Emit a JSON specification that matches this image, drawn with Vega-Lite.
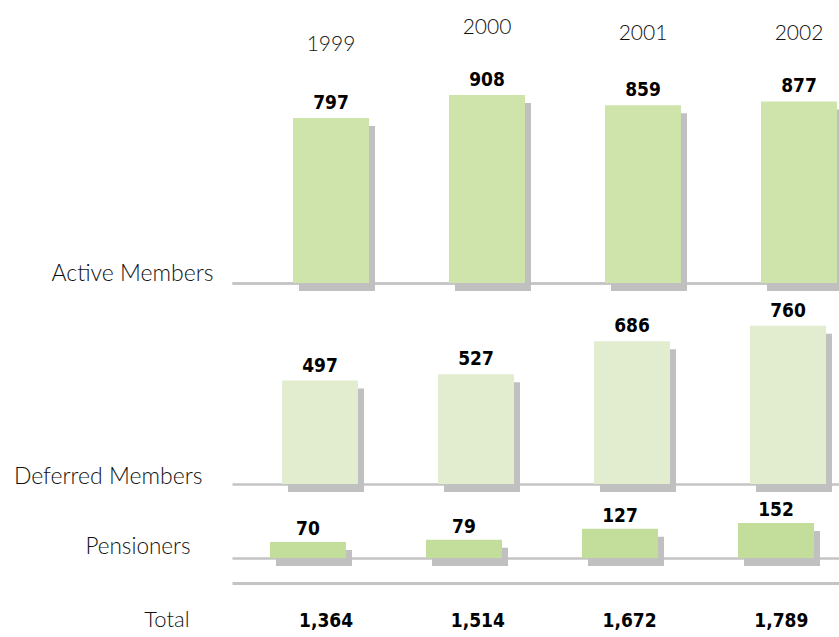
{
  "$schema": "https://vega.github.io/schema/vega-lite/v6.json",
  "padding": 0,
  "spacing": 0,
  "bounds": "flush",
  "background": "white",
  "config": {"view": {"stroke": null}, "font": "Lato", "axis": {"labelLimit": 0}},
  "resolve": {"scale": {"x": "independent", "y": "independent"}, "axis": {"x": "independent", "y": "independent"}},
  "datasets": {
    "members": [
      {"year": "1999", "category": "Active Members", "value": 797},
      {"year": "2000", "category": "Active Members", "value": 908},
      {"year": "2001", "category": "Active Members", "value": 859},
      {"year": "2002", "category": "Active Members", "value": 877},
      {"year": "1999", "category": "Deferred Members", "value": 497},
      {"year": "2000", "category": "Deferred Members", "value": 527},
      {"year": "2001", "category": "Deferred Members", "value": 686},
      {"year": "2002", "category": "Deferred Members", "value": 760},
      {"year": "1999", "category": "Pensioners", "value": 70},
      {"year": "2000", "category": "Pensioners", "value": 79},
      {"year": "2001", "category": "Pensioners", "value": 127},
      {"year": "2002", "category": "Pensioners", "value": 152}
    ]
  },
  "vconcat": [
    {
      "width": 839,
      "height": 283,
      "data": {"name": "members"},
      "transform": [{"filter": "datum.category == 'Active Members'"}],
      "encoding": {
        "x": {"field": "year", "type": "ordinal", "scale": {"range": [232, 839], "paddingInner": 0.513, "paddingOuter": 0.202, "align": 0.968},
          "axis": {"orient": "bottom", "labels": false, "ticks": false, "domain": true, "domainColor": "#c4c4c4", "domainWidth": 2.5, "title": null, "grid": false}},
        "y": {"field": "value", "type": "quantitative", "scale": {"domain": [0, 1367], "nice": false, "zero": true},
          "axis": {"orient": "left", "values": [0], "labelExpr": "'Active Members'", "domain": false, "ticks": false, "grid": false, "title": null, "labelLimit": 0, "labelPadding": -213, "labelFont": "Lato", "labelFontWeight": 300, "labelFontSize": 23, "labelColor": "#111111", "labelBaseline": "alphabetic", "labelOffset": -3}}
      },
      "layer": [
        {"mark": {"type": "bar", "color": "#c0c0c0", "xOffset": 6, "x2Offset": 6, "yOffset": 8, "y2Offset": 7}},
        {"mark": {"type": "bar", "color": "#cfe4ab"}},
        {
          "mark": {"type": "text", "baseline": "alphabetic", "dy": -9, "font": "DejaVu Sans Condensed, Roboto Condensed, Roboto, sans-serif", "fontWeight": "bold", "fontSize": 19, "color": "#000000"},
          "encoding": {
            "text": {"field": "value", "type": "quantitative"},
            "x": {"field": "year", "type": "ordinal", "scale": {"range": [232, 839], "paddingInner": 0.513, "paddingOuter": 0.202, "align": 0.968},
              "axis": {"orient": "top", "domain": false, "ticks": false, "grid": false, "title": null, "labelPadding": -33, "labelAngle": 0, "labelFont": "Lato", "labelFontWeight": 300, "labelFontSize": 21, "labelColor": "#111111",
                "labelBaseline": {"condition": [
                  {"test": "datum.label == '1999'", "value": "top"},
                  {"test": "datum.label == '2000'", "value": "alphabetic"}
                ], "value": "middle"}}}
          }
        }
      ]
    },
    {
      "width": 839,
      "height": 201,
      "data": {"name": "members"},
      "transform": [{"filter": "datum.category == 'Deferred Members'"}],
      "encoding": {
        "x": {"field": "year", "type": "ordinal", "scale": {"range": [232, 839], "paddingInner": 0.513, "paddingOuter": 0.202, "align": 0.794},
          "axis": {"orient": "bottom", "labels": false, "ticks": false, "domain": true, "domainColor": "#c4c4c4", "domainWidth": 2.5, "title": null, "grid": false}},
        "y": {"field": "value", "type": "quantitative", "scale": {"domain": [0, 966], "nice": false, "zero": true},
          "axis": {"orient": "left", "values": [0], "labelExpr": "'Deferred Members'", "domain": false, "ticks": false, "grid": false, "title": null, "labelLimit": 0, "labelPadding": -202, "labelFont": "Lato", "labelFontWeight": 300, "labelFontSize": 23, "labelColor": "#111111", "labelBaseline": "alphabetic", "labelOffset": -1}}
      },
      "layer": [
        {"mark": {"type": "bar", "color": "#c0c0c0", "xOffset": 6, "x2Offset": 6, "yOffset": 8, "y2Offset": 7}},
        {"mark": {"type": "bar", "color": "#e2edd0"}},
        {
          "mark": {"type": "text", "baseline": "alphabetic", "dy": -9, "font": "DejaVu Sans Condensed, Roboto Condensed, Roboto, sans-serif", "fontWeight": "bold", "fontSize": 19, "color": "#000000"},
          "encoding": {"text": {"field": "value", "type": "quantitative"}}
        }
      ]
    },
    {
      "width": 839,
      "height": 74,
      "data": {"name": "members"},
      "transform": [{"filter": "datum.category == 'Pensioners'"}],
      "encoding": {
        "x": {"field": "year", "type": "ordinal", "scale": {"range": [232, 839], "paddingInner": 0.513, "paddingOuter": 0.202, "align": 0.603},
          "axis": {"orient": "bottom", "labels": false, "ticks": false, "domain": true, "domainColor": "#c4c4c4", "domainWidth": 2.5, "title": null, "grid": false}},
        "y": {"field": "value", "type": "quantitative", "scale": {"domain": [0, 322], "nice": false, "zero": true},
          "axis": {"orient": "left", "values": [0], "labelExpr": "'Pensioners'", "domain": false, "ticks": false, "grid": false, "title": null, "labelLimit": 0, "labelPadding": -190, "labelFont": "Lato", "labelFontWeight": 300, "labelFontSize": 22.5, "labelColor": "#111111", "labelBaseline": "alphabetic", "labelOffset": -5}}
      },
      "layer": [
        {"mark": {"type": "bar", "color": "#c0c0c0", "xOffset": 6, "x2Offset": 6, "yOffset": 8, "y2Offset": 7}},
        {"mark": {"type": "bar", "color": "#c2de9a"}},
        {
          "mark": {"type": "text", "baseline": "alphabetic", "dy": -7, "font": "DejaVu Sans Condensed, Roboto Condensed, Roboto, sans-serif", "fontWeight": "bold", "fontSize": 19, "color": "#000000"},
          "encoding": {"text": {"field": "value", "type": "quantitative"}}
        }
      ]
    },
    {
      "width": 839,
      "height": 79,
      "data": {"name": "members"},
      "transform": [{"aggregate": [{"op": "sum", "field": "value", "as": "total"}], "groupby": ["year"]}],
      "mark": {"type": "text", "baseline": "alphabetic", "dy": 29, "font": "DejaVu Sans Condensed, Roboto Condensed, Roboto, sans-serif", "fontWeight": "bold", "fontSize": 19, "color": "#000000"},
      "encoding": {
        "x": {"field": "year", "type": "ordinal", "scale": {"range": [232, 839], "paddingInner": 0.513, "paddingOuter": 0.202, "align": 0.62},
          "axis": {"orient": "top", "offset": -25, "labels": false, "ticks": false, "domain": true, "domainColor": "#c4c4c4", "domainWidth": 3, "title": null, "grid": false}},
        "y": {"datum": "Total", "type": "nominal",
          "axis": {"orient": "left", "domain": false, "ticks": false, "grid": false, "title": null, "labelLimit": 0, "labelPadding": -189, "labelFont": "Lato", "labelFontWeight": 300, "labelFontSize": 22, "labelColor": "#111111", "labelBaseline": "alphabetic", "labelOffset": 29}},
        "text": {"field": "total", "type": "quantitative", "format": ","}
      }
    }
  ]
}
